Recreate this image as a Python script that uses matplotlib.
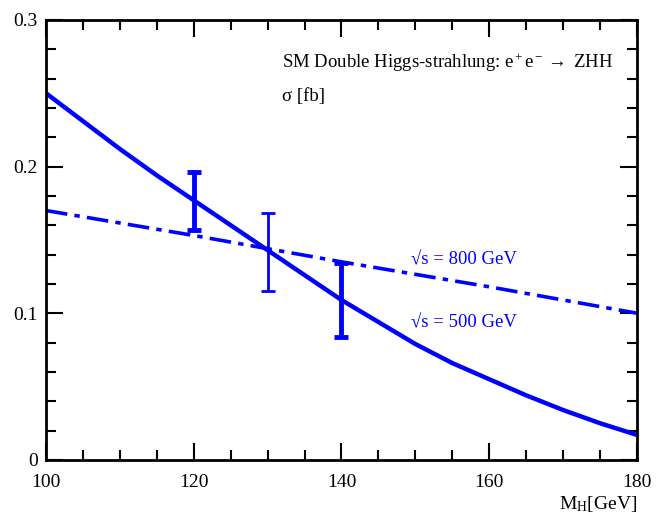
import matplotlib
matplotlib.use("Agg")
import matplotlib.pyplot as plt
from matplotlib.ticker import MultipleLocator

plt.rcParams['font.family'] = ['Liberation Serif', 'DejaVu Serif']
plt.rcParams['mathtext.fontset'] = 'custom'
plt.rcParams['mathtext.rm'] = 'Liberation Serif'
plt.rcParams['mathtext.it'] = 'Liberation Serif:italic'

# Higgs mass (GeV) and cross sections (fb)
mh = [100, 105, 110, 115, 120, 125, 130, 135, 140, 145, 150, 155, 160, 165, 170, 175, 180]
sigma_500 = [0.250, 0.231, 0.212, 0.194, 0.177, 0.160, 0.143, 0.126, 0.109, 0.094,
             0.079, 0.066, 0.055, 0.044, 0.034, 0.025, 0.017]
mh_800 = [100, 120, 140, 160, 180]
sigma_800 = [0.170, 0.153, 0.135, 0.118, 0.100]

# error bars at three masses
err_mh = [120, 130, 140]
err_center = [0.176, 0.143, 0.109]
err_low = [0.157, 0.115, 0.084]
err_high = [0.196, 0.168, 0.134]

blue = '#0000ff'

fig = plt.figure(figsize=(6.56, 5.22), dpi=100)
ax = fig.add_axes([0.070, 0.119, 0.901, 0.843])

ax.plot(mh, sigma_500, color=blue, lw=3.2, solid_capstyle='butt')
ax.plot(mh_800, sigma_800, color=blue, lw=2.6, dashes=(6, 2, 1.5, 2))

widths = [3.5, 2.0, 3.5]
for m, c, lo, hi, w in zip(err_mh, err_center, err_low, err_high, widths):
    ax.errorbar([m], [c], yerr=[[c - lo], [hi - c]], fmt='none', ecolor=blue,
                elinewidth=w, capsize=5, capthick=w)

ax.set_xlim(100, 180)
ax.set_ylim(0, 0.3)
ax.xaxis.set_major_locator(MultipleLocator(20))
ax.xaxis.set_minor_locator(MultipleLocator(5))
ax.yaxis.set_minor_locator(MultipleLocator(0.02))
ax.set_yticks([0, 0.1, 0.2, 0.3])
ax.set_yticklabels(['0', '0.1', '0.2', '0.3'])
ax.tick_params(which='both', direction='in', top=True, right=True, labelsize=14, width=1.5)
ax.tick_params(which='major', length=12)
ax.tick_params(which='minor', length=7)
ax.tick_params(axis='x', pad=10)
ax.tick_params(axis='y', pad=6)
for s in ax.spines.values():
    s.set_linewidth(2)

ax.text(0.40, 0.89, r'SM Double Higgs-strahlung: e$^+$e$^-$$\rightarrow$ ZHH',
        transform=ax.transAxes, fontsize=13.5)
ax.text(0.40, 0.815, 'σ [fb]', transform=ax.transAxes, fontsize=13.5)
ax.text(0.618, 0.445, '√s = 800 GeV', transform=ax.transAxes, fontsize=13.5, color=blue)
ax.text(0.618, 0.30, '√s = 500 GeV', transform=ax.transAxes, fontsize=13.5, color=blue)

ax.set_xlabel(r'M$_{\rm H}$[GeV]', fontsize=14, loc='right', labelpad=2)

fig.savefig('out.png', dpi=100)
